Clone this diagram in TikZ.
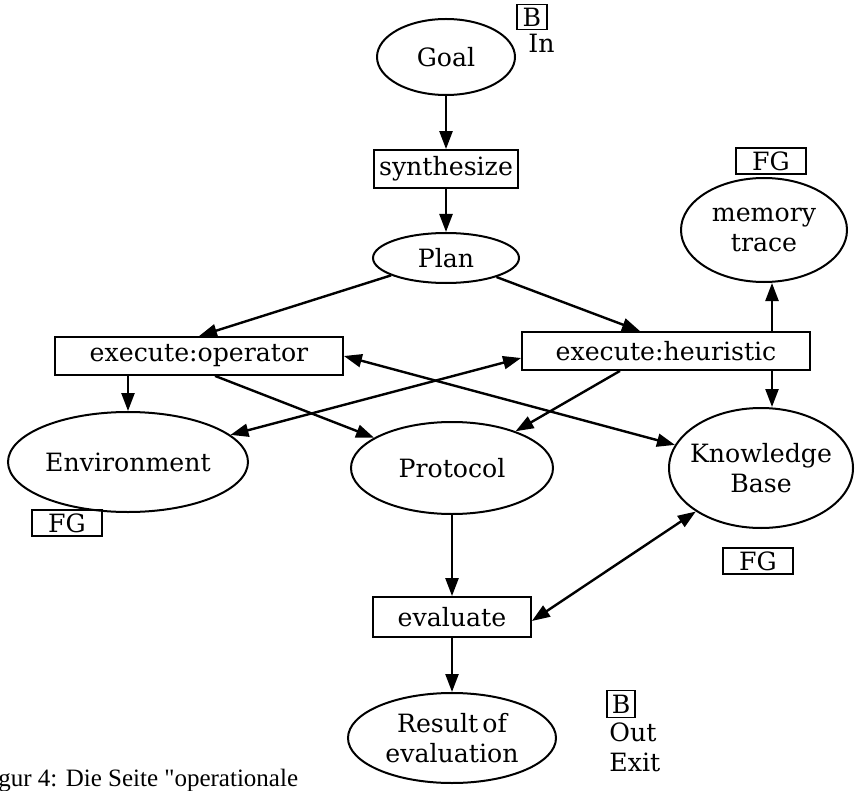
\documentclass[tikz,border=0pt]{standalone}
\usepackage{fontspec}
\setmainfont{DejaVu Serif}
\newfontfamily\capfont{Liberation Serif}
\usepackage{tikz}
\usetikzlibrary{shapes.geometric,arrows.meta}

\begin{document}
\begin{tikzpicture}[x=0.5pt, y=-0.5pt,
    every node/.style = { align = center, inner sep = 0pt, font = \fontsize{12.6}{15}\selectfont },
    state/.style = { draw, shape = ellipse, line width = 1pt, inner sep = -6pt },
    act/.style = { draw, shape = rectangle, line width = 0.9pt },
    tag/.style = { draw, shape = rectangle, line width = 0.9pt, minimum width = 35pt, minimum height = 13pt },
    arr/.style = { line width = 1.2pt, -{Triangle[length = 9pt, width = 6.5pt]} },
    darr/.style = { line width = 1.2pt, {Triangle[length = 9pt, width = 6.5pt]}-{Triangle[length = 9pt, width = 6.5pt]} }]
    \useasboundingbox (0,0) rectangle (856,791);

    \node [state, minimum width = 69pt, minimum height = 38pt] (goal) at (446,57) {Goal};
    \node [act, minimum width = 72pt, minimum height = 19pt] (synth) at (446,169) {synthesize};
    \node [state, minimum width = 73pt, minimum height = 25pt] (plan) at (446,258) {Plan};
    \node [act, minimum width = 144pt, minimum height = 19pt] (op) at (199,356) {execute:operator};
    \node [act, minimum width = 144pt, minimum height = 19pt] (heur) at (666,351) {execute:heuristic};
    \node [state, minimum width = 83pt, minimum height = 52pt] (mem) at (764,230) {memory\\trace};
    \node [state, minimum width = 120pt, minimum height = 50pt] (env) at (128,462) {Environment};
    \node [state, minimum width = 101pt, minimum height = 46pt] (prot) at (452,468) {Protocol};
    \node [state, minimum width = 92pt, minimum height = 60pt] (kb) at (761,468) {Knowledge\\Base};
    \node [act, minimum width = 79pt, minimum height = 20pt] (eval) at (452,617) {evaluate};
    \node [state, minimum width = 104pt, minimum height = 45pt] (res) at (452,738) {Result\,of\\evaluation};

    % tags
    \node [tag, minimum width = 15pt, minimum height = 12.5pt] (tgoal) at (532,17) {B};
    \node [anchor = north west] (tin) at (528,34) {In};
    \node [tag] (tmem) at (771,161) {FG};
    \node [tag] (tenv) at (67,523) {FG};
    \node [tag] (tkb) at (758,561) {FG};
    \node [tag, minimum width = 14pt, minimum height = 13.5pt] (tres) at (621,704) {B};
    \node [anchor = north west, align = left] (texit) at (609,722) {Out\\Exit};

    \node [anchor = base west, font = \capfont\fontsize{12.5}{14}\selectfont] (cap) at (-2,786) {gur 4: Die Seite "operationale};

    % connectors
    \draw [arr] (goal) -- (synth);
    \draw [arr] (synth) -- (plan);
    \draw [arr] (plan) -- (op.north);
    \draw [arr] (plan) -- ([xshift = -13pt]heur.north);
    \draw [arr] ([xshift = 53pt]heur.north) -- ([xshift = 53pt]heur.north |- mem.south);
    \draw [arr] ([xshift = 53pt]heur.south) -- ([xshift = 53pt]heur.south |- kb.north);
    \draw [arr] (op.south -| env) -- (env.north);
    \draw [arr] ([xshift = 8pt]op.south) -- (prot);
    \draw [arr] ([xshift = -23pt]heur.south) -- (prot);
    \draw [darr] (env) -- ([yshift = -3.5pt]heur.west);
    \draw [darr] (op.east) -- (kb);
    \draw [arr] (prot) -- (eval);
    \draw [darr] ([yshift = -2pt]eval.east) -- (kb);
    \draw [arr] (eval) -- (res);
\end{tikzpicture}
\end{document}
